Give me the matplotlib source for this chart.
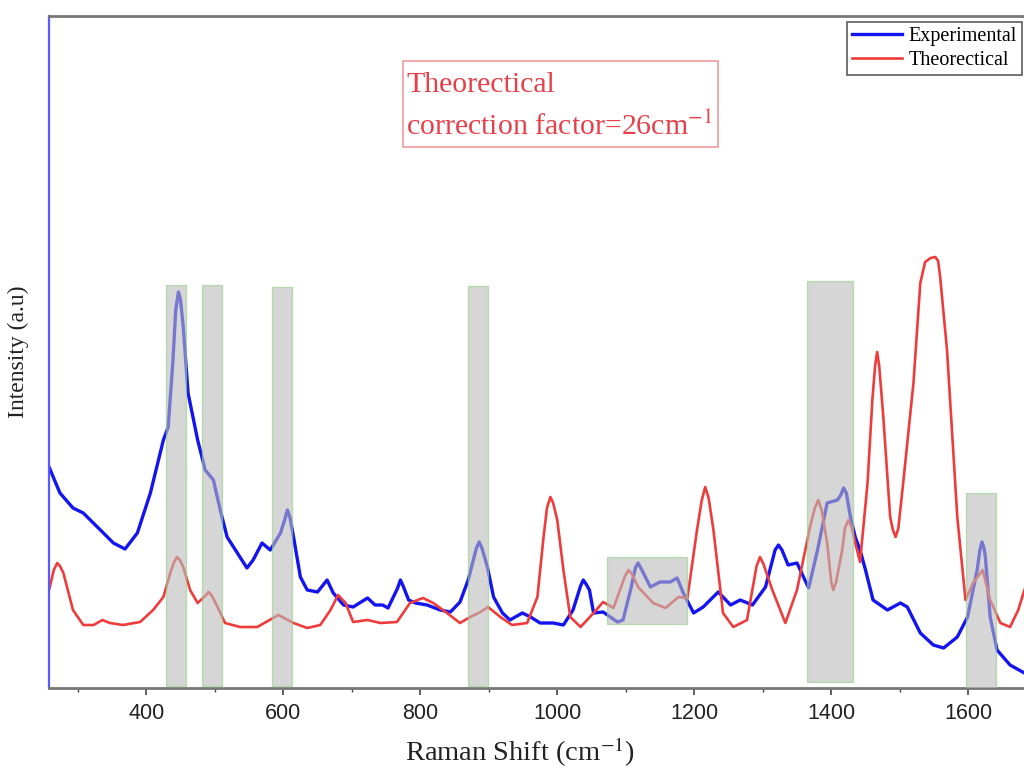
import matplotlib
matplotlib.use('Agg')
import matplotlib.pyplot as plt
import matplotlib.patches as patches

plt.rcParams['mathtext.fontset'] = 'stix'

# experimental spectrum (Raman shift cm-1, intensity a.u.)
exp_x = [258, 274, 293, 308, 333, 352, 369, 387, 406, 425, 432, 439, 443, 447, 450, 454, 461,
         475, 486, 498, 508, 518, 533, 547, 556, 569, 581, 596, 602, 606, 610, 615, 625, 635,
         650, 664, 673, 688, 702, 723, 734, 745, 753, 767, 771, 775, 783, 793, 810, 829, 844,
         858, 870, 882, 886, 890, 898, 907, 920, 931, 949, 961, 975, 994, 1009, 1023, 1034, 1038, 1042, 1047,
         1053, 1067, 1088, 1096, 1107, 1114, 1118, 1122, 1136, 1150, 1165, 1175, 1184, 1199, 1213,
         1235, 1253, 1267, 1285, 1304, 1318, 1323, 1328, 1337, 1350, 1367, 1380, 1394, 1409, 1414, 1418,
         1422, 1428, 1435, 1442, 1450, 1461, 1482, 1501, 1511, 1530, 1549, 1564, 1584, 1599,
         1613, 1617, 1620, 1623, 1625, 1632, 1642, 1661, 1682, 1700]
exp_y = [221, 195, 180, 175, 158, 145, 139, 155, 195, 248, 261, 328, 378, 396, 388, 361, 295,
         248, 218, 208, 178, 151, 135, 120, 128, 145, 138, 155, 168, 178, 170, 151, 111, 98,
         96, 108, 95, 83, 81, 90, 83, 83, 80, 100, 108, 102, 88, 85, 83, 78, 76,
         86, 108, 140, 146, 140, 121, 91, 75, 68, 75, 71, 65, 65, 63, 78, 102, 108, 104, 98,
         75, 76, 66, 68, 98, 120, 125, 120, 101, 106, 106, 110, 95, 75, 81,
         96, 83, 88, 83, 101, 138, 143, 138, 123, 125, 100, 138, 185, 188, 193, 200,
         195, 171, 151, 138, 118, 88, 78, 85, 81, 55, 43, 40, 51, 71,
         118, 138, 146, 140, 131, 71, 38, 23, 15, 12]

# theoretical spectrum (scaled)
theo_x = [258, 265, 270, 274, 279, 293, 308, 323, 336, 347, 366, 391, 410, 425, 435, 440, 445, 449, 454,
          464, 475, 486, 491, 496, 504, 515, 537, 562, 593, 615, 635, 654, 669, 680, 691, 702,
          723, 742, 766, 785, 804, 819, 839, 858, 873, 888, 899, 917, 934, 956, 971,
          980, 985, 990, 994, 1000, 1009, 1019, 1034, 1053, 1067, 1082, 1099, 1104, 1109, 1118, 1140, 1158,
          1177, 1190, 1204, 1211, 1216, 1221, 1228, 1242, 1257, 1277, 1291, 1296, 1301, 1314, 1333, 1350, 1369,
          1376, 1381, 1386, 1394, 1400, 1403, 1407, 1416, 1420, 1425, 1430, 1435, 1442, 1453, 1460, 1464, 1467, 1470, 1476, 1486, 1490, 1494,
          1498, 1505, 1520, 1530, 1537, 1545, 1552, 1556, 1559, 1569, 1584, 1596, 1607, 1621, 1632, 1647,
          1661, 1673, 1682, 1700]
theo_y = [98, 118, 125, 122, 115, 78, 63, 63, 68, 65, 63, 66, 78, 91, 115, 125, 131, 128, 121,
          98, 85, 92, 96, 92, 81, 65, 61, 61, 73, 65, 60, 63, 78, 93, 85, 66,
          68, 65, 66, 85, 90, 85, 75, 65, 71, 76, 81, 71, 63, 65, 91,
          151, 180, 191, 185, 168, 118, 71, 61, 75, 86, 80, 112, 118, 114, 101, 85, 80,
          91, 90, 158, 188, 201, 190, 158, 75, 61, 68, 122, 131, 124, 98, 65, 98, 161,
          180, 188, 178, 145, 106, 98, 106, 138, 160, 168, 160, 145, 126, 205, 288, 322, 336, 322, 271, 171, 158, 151,
          160, 205, 305, 405, 426, 430, 431, 427, 411, 338, 171, 88, 105, 118, 88, 65,
          61, 78, 98, 130]

# highlighted bands: start, end, bottom, top
band_start = [429, 482, 584, 870, 1073, 1364, 1597]
band_end = [458, 511, 613, 899, 1190, 1432, 1640]
band_bottom = [2, 2, 2, 2, 64, 6, 0]
band_top = [403, 403, 401, 402, 131, 407, 195]

fig = plt.figure(figsize=(10.24, 7.69), dpi=100, facecolor='white')
ax = fig.add_axes([49 / 1024, 81 / 769, 0.9646, 672 / 769])

ax.plot(exp_x, exp_y, color='#1414f0', lw=2.4, label='Experimental', solid_joinstyle='round')
ax.plot(theo_x, theo_y, color='#ee3c3c', lw=1.9, label='Theorectical', solid_joinstyle='round')

for x0, x1, y0, y1 in zip(band_start, band_end, band_bottom, band_top):
    ax.add_patch(patches.Rectangle((x0, y0), x1 - x0, y1 - y0,
                                   facecolor='#bbbbbb', alpha=0.6,
                                   edgecolor='#8fcf85', lw=1.0, zorder=3))

ax.set_xlim(258, 1700)
ax.set_ylim(0, 672)
ax.set_xticks([400, 600, 800, 1000, 1200, 1400, 1600])
ax.set_xticks(range(300, 1700, 100), minor=True)
ax.set_yticks([])
ax.tick_params(axis='x', which='major', direction='out', length=5, width=1.2,
               color='#444444', labelsize=15.5, labelcolor='#222222', pad=6)
ax.tick_params(axis='x', which='minor', direction='out', length=3, width=1.0,
               color='#444444')
for lab in ax.get_xticklabels():
    lab.set_fontfamily('Liberation Sans')

ax.spines['left'].set_color('#5a5aff')
ax.spines['left'].set_linewidth(1.6)
ax.spines['top'].set_color('#777777')
ax.spines['top'].set_linewidth(2.0)
ax.spines['bottom'].set_color('#777777')
ax.spines['bottom'].set_linewidth(2.0)
ax.spines['right'].set_visible(False)

ax.set_xlabel('Raman Shift (cm$^{-1}$)', fontsize=20.5, family='Liberation Serif',
              color='#222222')
ax.xaxis.label.set_va('center')
ax.xaxis.set_label_coords((520 - 49) / (0.9646 * 1024), -(752 - 688) / 672)
ax.set_ylabel('Intensity (a.u)', fontsize=17, family='Liberation Serif',
              color='#222222')
ax.yaxis.label.set_va('center')
ax.yaxis.set_label_coords(-(49 - 18) / (0.9646 * 1024), (688 - 352) / 672)

# annotation box
fig.add_artist(patches.Rectangle((403 / 1024, 1 - 147 / 769), 315 / 1024, 86 / 769,
                                 transform=fig.transFigure, facecolor='white',
                                 edgecolor='#f19a9a', lw=1.2))
fig.text(406 / 1024, 1 - 85 / 769, 'Theorectical',
         ha='left', va='center', fontsize=21.5, family='Liberation Serif',
         color='#e8404a')
fig.text(406 / 1024, 1 - 126 / 769, 'correction factor=26cm$^{-1}$',
         ha='left', va='center', fontsize=21.5, family='Liberation Serif',
         color='#e8404a')

leg = fig.legend(loc='upper right', bbox_to_anchor=(1022 / 1024, 1 - 22 / 769),
                 prop={'family': 'Liberation Serif', 'size': 14.5},
                 frameon=True, fancybox=False, borderpad=0.25, labelspacing=0.25,
                 handlelength=2.45, handletextpad=0.35, borderaxespad=0)
leg.get_frame().set_edgecolor('#333333')
leg.get_frame().set_linewidth(1.2)

plt.savefig('out.png', dpi=100)
